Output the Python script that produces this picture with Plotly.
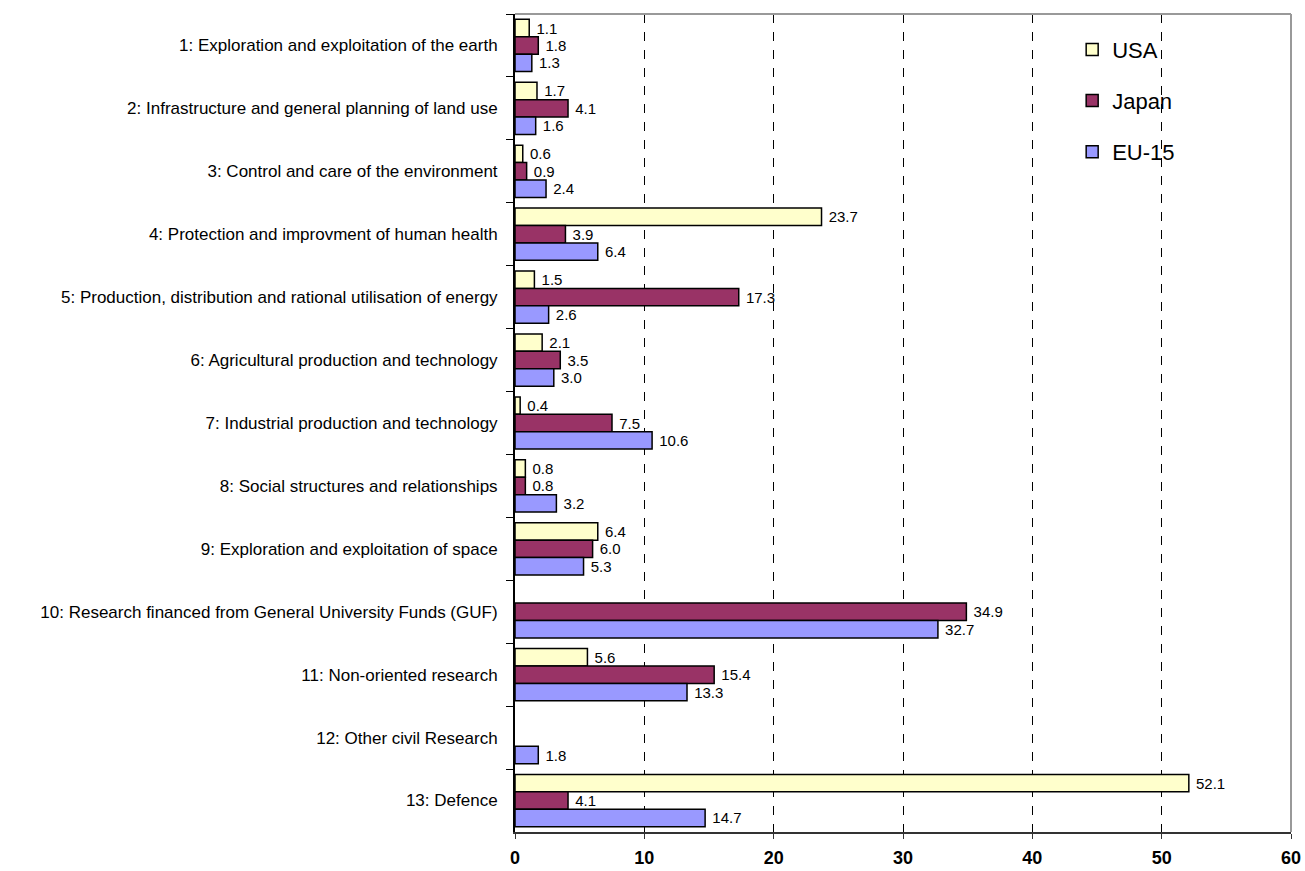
import plotly.graph_objects as go

categories = [
    "1: Exploration and exploitation of the earth",
    "2: Infrastructure and general planning of land use",
    "3: Control and care of the environment",
    "4: Protection and improvment of human health",
    "5: Production, distribution and rational utilisation of energy",
    "6: Agricultural production and technology",
    "7: Industrial production and technology",
    "8: Social structures and relationships",
    "9: Exploration and exploitation of space",
    "10: Research financed from General University Funds (GUF)",
    "11: Non-oriented research",
    "12: Other civil Research",
    "13: Defence",
]
usa = [1.1, 1.7, 0.6, 23.7, 1.5, 2.1, 0.4, 0.8, 6.4, None, 5.6, None, 52.1]
japan = [1.8, 4.1, 0.9, 3.9, 17.3, 3.5, 7.5, 0.8, 6.0, 34.9, 15.4, None, 4.1]
eu15 = [1.3, 1.6, 2.4, 6.4, 2.6, 3.0, 10.6, 3.2, 5.3, 32.7, 13.3, 1.8, 14.7]
x_ticks = [0, 10, 20, 30, 40, 50, 60]

series = [("USA", usa, "#FFFFCC"), ("Japan", japan, "#993366"), ("EU-15", eu15, "#9999FF")]

fig = go.Figure()
for i, (name, vals, col) in enumerate(series):
    fig.add_trace(go.Bar(
        y=categories, x=vals, name=name, orientation="h",
        marker=dict(color=col, line=dict(color="black", width=1.5)),
        text=[None if v is None else f" {v:.1f}" for v in vals],
        textposition="outside", constraintext="none", cliponaxis=False,
        textfont=dict(family="Arial, Liberation Sans", size=15, color="black"),
        legendgroup=f"g{i}",
    ))

fig.update_layout(
    width=1305, height=871,
    margin=dict(l=515, r=14, t=14, b=39),
    plot_bgcolor="white", paper_bgcolor="white",
    barmode="group", bargap=0.17, bargroupgap=0,
    font=dict(family="Arial, Liberation Sans", color="black"),
    legend=dict(
        x=0.718, y=0.982, xanchor="left", yanchor="top",
        font=dict(size=22), traceorder="grouped", tracegroupgap=19.5,
        bgcolor="rgba(0,0,0,0)",
    ),
    xaxis=dict(
        range=[0, 60], tickvals=x_ticks, showgrid=True, gridcolor="black",
        griddash="dash", gridwidth=1, showline=True, linecolor="#333333", linewidth=2,
        ticks="outside", ticklen=5, tickcolor="#333333", zeroline=False,
        tickfont=dict(size=18, family="Arial, Liberation Sans", weight="bold"),
        ticklabelstandoff=3, automargin=False,
    ),
    yaxis=dict(
        type="category", autorange="reversed", showline=True, linecolor="black",
        linewidth=2, ticks="outside", ticklen=7, tickson="boundaries", tickcolor="black",
        showgrid=False, tickfont=dict(size=17), ticklabelstandoff=12, automargin=False,
    ),
    shapes=[
        dict(type="line", xref="x domain", yref="y domain", x0=0, x1=1, y0=1, y1=1,
             line=dict(color="#999999", width=2)),
        dict(type="line", xref="x domain", yref="y domain", x0=1, x1=1, y0=0, y1=1,
             line=dict(color="#999999", width=2)),
    ],
)

fig.write_html("out.html")
